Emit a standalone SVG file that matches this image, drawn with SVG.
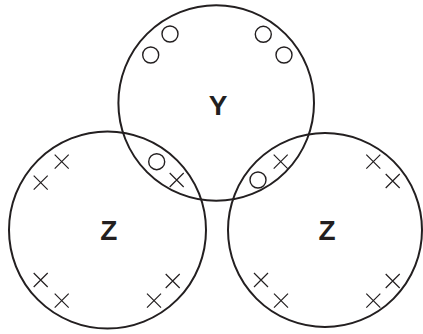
<svg xmlns="http://www.w3.org/2000/svg" width="423" height="334" viewBox="0 0 423 334">
<style>
.big{fill:none;stroke:#231f20;stroke-width:2}
.o{fill:none;stroke:#231f20;stroke-width:1.4}
.x{stroke:#231f20;stroke-width:1.2;fill:none}
.lbl{font-family:"Liberation Sans",Arial,sans-serif;font-weight:bold;font-size:28px;fill:#231f20;text-anchor:middle}
</style>
<defs>
<path id="x" class="x" d="M-7,-7L7,7M7,-7L-7,7"/>
</defs>
<rect width="423" height="334" fill="#fff"/>
<g id="Y">
<circle class="big" cx="216.2" cy="103" r="97.8"/>
<text class="lbl" x="218" y="115">Y</text>
<circle class="o" cx="170" cy="34" r="8"/>
<circle class="o" cx="150.7" cy="55" r="8"/>
<circle class="o" cx="263.3" cy="34.3" r="8"/>
<circle class="o" cx="284" cy="55" r="8"/>
</g>
<g id="Z1">
<circle class="big" cx="107.5" cy="230" r="98.5"/>
<text class="lbl" x="108.7" y="240">Z</text>
<use href="#x" x="61.7" y="161.7"/>
<use href="#x" x="40.7" y="182.7"/>
<use href="#x" x="40.7" y="280"/>
<use href="#x" x="61.7" y="300.7"/>
<use href="#x" x="154" y="300.7"/>
<use href="#x" x="172.7" y="281"/>
</g>
<g id="Z2">
<circle class="big" cx="325" cy="230" r="97"/>
<text class="lbl" x="327" y="239.5">Z</text>
<use href="#x" x="373.3" y="161.7"/>
<use href="#x" x="392.7" y="181"/>
<use href="#x" x="261" y="280"/>
<use href="#x" x="281" y="300.7"/>
<use href="#x" x="373.3" y="300.7"/>
<use href="#x" x="392.7" y="281"/>
</g>
<g id="lenses">
<circle class="o" cx="156.7" cy="161.7" r="8"/>
<use href="#x" x="176.7" y="180"/>
<circle class="o" cx="258" cy="180" r="8"/>
<use href="#x" x="280.7" y="161.7"/>
</g>
<g id="connectors"/>
</svg>
